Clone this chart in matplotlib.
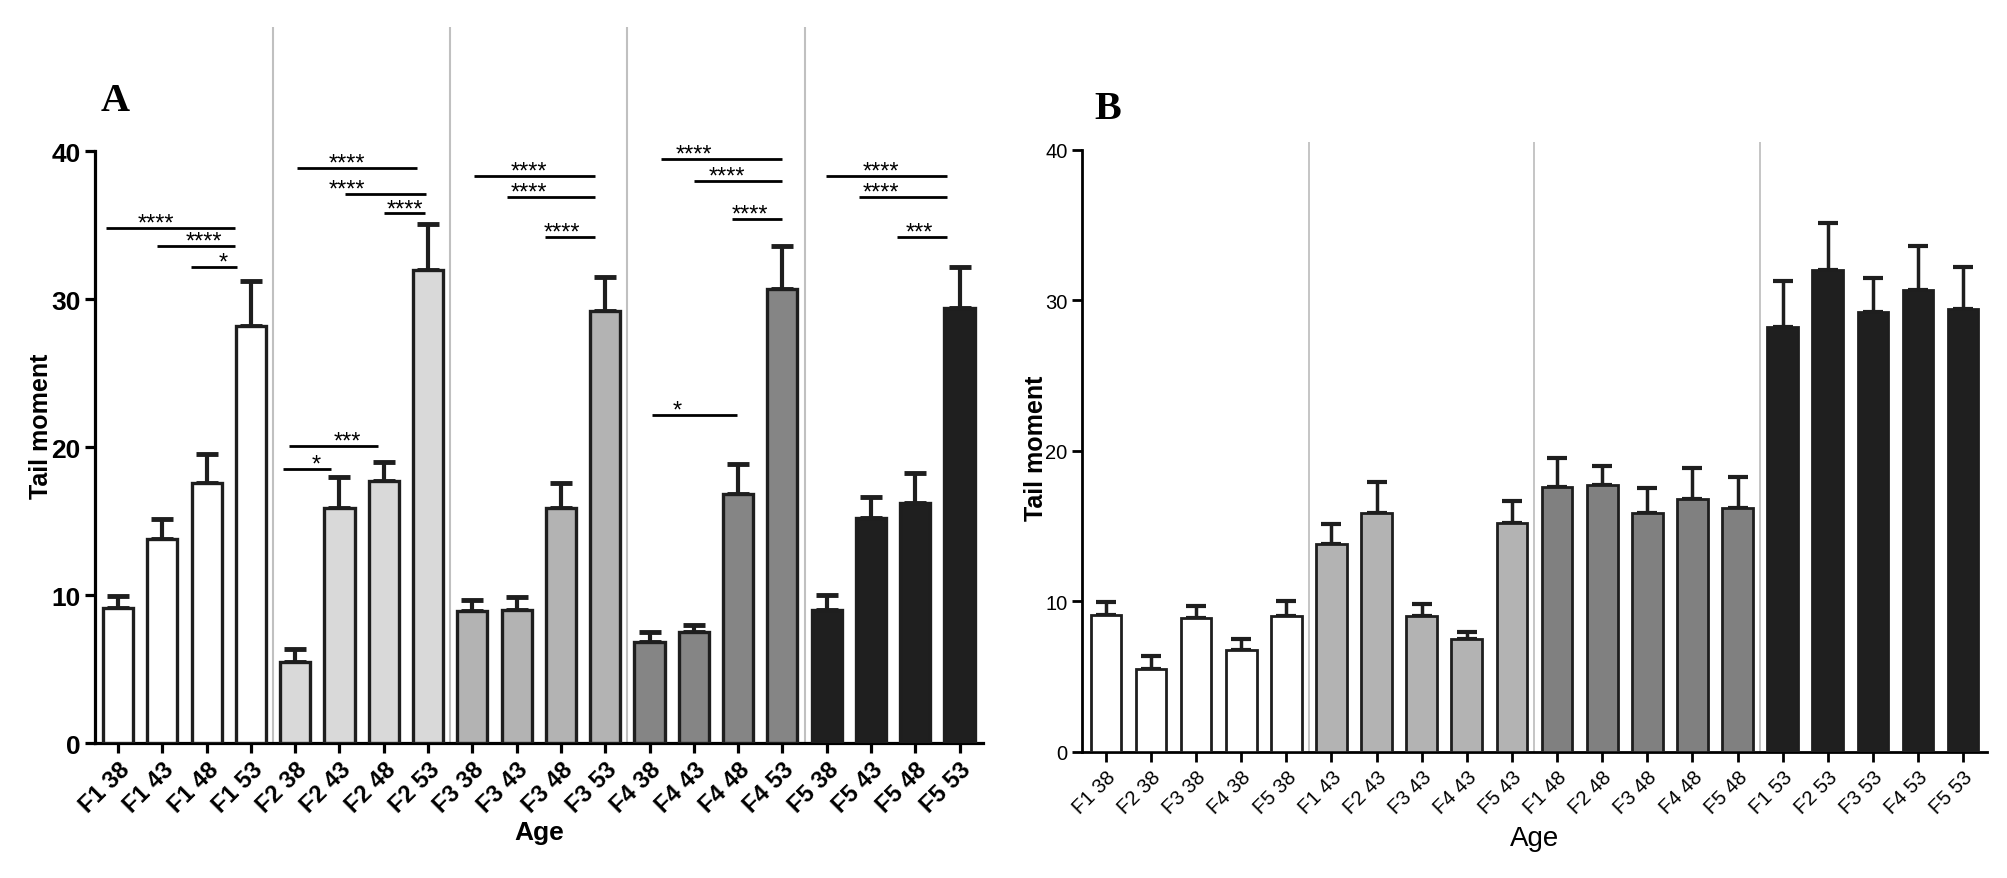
import matplotlib
matplotlib.use('Agg')
import matplotlib.pyplot as plt
import numpy as np

plt.rcParams['font.family'] = ['Liberation Sans', 'DejaVu Sans']

families = ['F1', 'F2', 'F3', 'F4', 'F5']
ages = ['38', '43', '48', '53']

# mean tail moment per family, ages 38/43/48/53
f1_mean = [9.1, 13.8, 17.6, 28.2]
f2_mean = [5.5, 15.9, 17.7, 32.0]
f3_mean = [8.9, 9.0, 15.9, 29.2]
f4_mean = [6.8, 7.5, 16.8, 30.7]
f5_mean = [9.0, 15.2, 16.2, 29.4]

# error (upper bar only)
f1_err = [0.85, 1.35, 1.95, 3.05]
f2_err = [0.85, 2.05, 1.3, 3.1]
f3_err = [0.8, 0.85, 1.65, 2.3]
f4_err = [0.7, 0.5, 2.05, 2.9]
f5_err = [1.0, 1.45, 2.05, 2.8]

# significance bars in panel A: (start, end, height, stars, text x)
sig_lines = [
    (-0.28, 2.65, 34.8, '****', 0.85), (0.89, 2.65, 33.6, '****', 1.95), (1.64, 2.69, 32.2, '*', 2.38),
    (4.04, 6.75, 38.9, '****', 5.17), (5.12, 6.96, 37.1, '****', 5.17), (6.01, 6.94, 35.8, '****', 6.48),
    (3.87, 5.88, 20.1, '***', 5.18), (3.72, 4.81, 18.5, '*', 4.48),
    (8.04, 10.76, 38.35, '****', 9.28), (8.78, 10.76, 36.9, '****', 9.28), (9.64, 10.76, 34.2, '****', 10.03),
    (12.27, 14.99, 39.5, '****', 13.0), (13.0, 14.99, 38.0, '****', 13.74), (13.86, 14.99, 35.4, '****', 14.27),
    (12.05, 13.98, 22.15, '*', 12.62),
    (15.99, 18.71, 38.35, '****', 17.23), (16.74, 18.71, 36.9, '****', 17.23), (17.59, 18.71, 34.2, '***', 18.09),
]

fam_colors = ['#ffffff', '#d9d9d9', '#b3b3b3', '#858585', '#1f1f1f']
age_colors = ['#ffffff', '#b3b3b3', '#808080', '#1f1f1f']

means = [f1_mean, f2_mean, f3_mean, f4_mean, f5_mean]
errs = [f1_err, f2_err, f3_err, f4_err, f5_err]

edge = '#1e1e1e'
fig = plt.figure(figsize=(20.08, 8.79), dpi=100)


def style_axes(ax, lw):
    for s in ['top', 'right']:
        ax.spines[s].set_visible(False)
    ax.spines['left'].set_linewidth(lw)
    ax.spines['bottom'].set_linewidth(lw)
    ax.spines['left'].set_bounds(0, 40)
    ax.tick_params(axis='both', width=lw, length=7, color='black')
    ax.set_yticks([0, 10, 20, 30, 40])


# ---------------- panel A: grouped by family ----------------
axA = fig.add_axes([95 / 2008, 1 - 744 / 879, 888 / 2008, 716 / 879])
labelsA, valsA, errA, colA = [], [], [], []
for i, f in enumerate(families):
    for j, a in enumerate(ages):
        labelsA.append(f + ' ' + a)
        valsA.append(means[i][j])
        errA.append(errs[i][j])
        colA.append(fam_colors[i])
xA = np.arange(len(valsA))
axA.bar(xA, valsA, width=0.68, color=colA, edgecolor=edge, linewidth=2.4, zorder=3)
axA.errorbar(xA, valsA, yerr=[np.zeros(len(errA)), errA], fmt='none', ecolor=edge,
             elinewidth=3, capsize=8, capthick=3.5, zorder=2)
for sep in [3.5, 7.5, 11.5, 15.5]:
    axA.axvline(sep, color='#c0c0c0', lw=1.5, zorder=1)
for x0, x1, y, txt, tx in sig_lines:
    axA.plot([x0, x1], [y, y], color='black', lw=2, solid_capstyle='butt')
    axA.text(tx, y - 0.45, txt, ha='center', va='bottom', fontsize=17)
axA.set_xlim(-0.52, 19.53)
axA.set_ylim(0, 48.4)
style_axes(axA, 2.3)
axA.set_xticks(xA)
axA.set_xticklabels(labelsA, rotation=45, ha='right', rotation_mode='anchor', fontsize=17, fontweight='bold')
for t in axA.get_yticklabels():
    t.set_fontsize(19)
    t.set_fontweight('bold')
axA.set_xlabel('Age', fontsize=19, fontweight='bold', labelpad=2)
axA.set_ylabel('Tail moment', fontsize=18, fontweight='bold')
axA.yaxis.set_label_coords(-0.047, 40 / 48.4 * 0.5 + 0.03)
fig.text(115 / 2008, 1 - 102 / 879, 'A', family='Liberation Serif', fontweight='bold', fontsize=29,
         ha='center', va='center')

# ---------------- panel B: grouped by age ----------------
axB = fig.add_axes([1082 / 2008, 1 - 753 / 879, 905 / 2008, 610 / 879])
labelsB, valsB, errB, colB = [], [], [], []
for j, a in enumerate(ages):
    for i, f in enumerate(families):
        labelsB.append(f + ' ' + a)
        valsB.append(means[i][j])
        errB.append(errs[i][j])
        colB.append(age_colors[j])
xB = np.arange(len(valsB))
axB.bar(xB, valsB, width=0.68, color=colB, edgecolor=edge, linewidth=2.0, zorder=3)
axB.errorbar(xB, valsB, yerr=[np.zeros(len(errB)), errB], fmt='none', ecolor=edge,
             elinewidth=2.5, capsize=7, capthick=3, zorder=2)
for sep in [4.5, 9.5, 14.5]:
    axB.axvline(sep, color='#c0c0c0', lw=1.3, zorder=1)
axB.set_xlim(-0.53, 19.53)
axB.set_ylim(0, 40.5)
style_axes(axB, 2.0)
axB.set_xticks(xB)
narrow = ['Liberation Sans Narrow', 'Liberation Sans']
axB.set_xticklabels(labelsB, rotation=45, ha='right', rotation_mode='anchor', fontsize=14.5,
                    family=narrow)
for t in axB.get_yticklabels():
    t.set_fontsize(14.5)
    t.set_family(narrow)
axB.set_xlabel('Age', fontsize=20, family=narrow, labelpad=6)
axB.set_ylabel('Tail moment', fontsize=18, fontweight='bold')
axB.yaxis.set_label_coords(-0.038, 0.5)
fig.text(1108 / 2008, 1 - 110 / 879, 'B', family='Liberation Serif', fontweight='bold', fontsize=29,
         ha='center', va='center')

fig.savefig('out.png', dpi=100)
